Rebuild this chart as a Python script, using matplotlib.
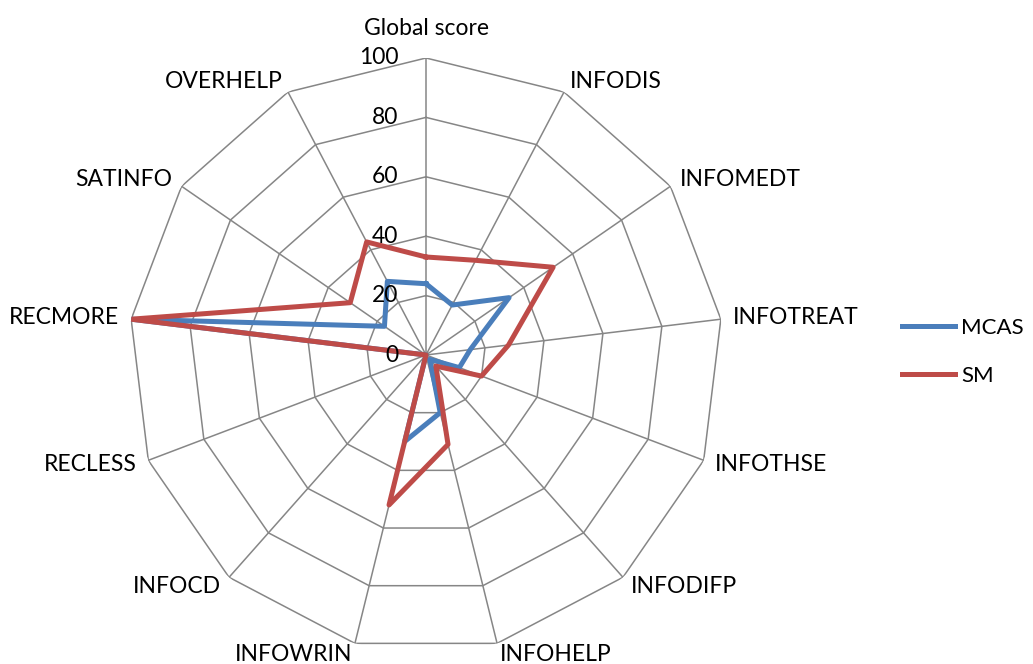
import numpy as np
from matplotlib import pyplot as plt

plt.rcParams['font.family'] = ['Lato', 'DejaVu Sans']

# categories clockwise from the top
categories = ['Global score', 'INFODIS', 'INFOMEDT', 'INFOTREAT', 'INFOTHSE',
              'INFODIFP', 'INFOHELP', 'INFOWRIN', 'INFOCD', 'RECLESS',
              'RECMORE', 'SATINFO', 'OVERHELP']
mcas = [24, 19, 34, 15, 12, 2, 20, 30, 0, 0, 100, 17, 28]
sm = [33, 36, 52, 28, 20, 5, 31, 52, 0, 0, 100, 31, 43]
r_ticks = [0, 20, 40, 60, 80, 100]

blue = '#4A7EBB'
red = '#BE4B48'
grid_col = '#868686'
fs = 16.5

n = len(categories)
angles = np.linspace(0, 2*np.pi, n, endpoint=False)
closed = np.append(angles, angles[0])

fig = plt.figure(figsize=(10.33, 6.64), dpi=100)
ax = fig.add_axes([129/1033, 12/664, 594/1033, 594/664], projection='polar')
ax.set_theta_zero_location('N')
ax.set_theta_direction(-1)
ax.set_ylim(0, 100)
ax.grid(False)
ax.spines['polar'].set_visible(False)
ax.set_xticks([])
ax.set_yticks([])

# polygon grid + spokes
for r in r_ticks[1:]:
    ax.plot(closed, [r]*(n+1), color=grid_col, lw=1.1, zorder=1)
for a in angles:
    ax.plot([a, a], [0, 100], color=grid_col, lw=1.1, zorder=1)

ax.plot(closed, np.append(mcas, mcas[0]), color=blue, lw=3.6, label='MCAS', zorder=3)
ax.plot(closed, np.append(sm, sm[0]), color=red, lw=3.6, label='SM', zorder=4)

# radial tick labels left of the top spoke
for r in r_ticks:
    ax.annotate(str(r), xy=(0, r), xytext=(-20, 0), textcoords='offset points',
                ha='right', va='center', fontsize=fs, zorder=5)

# category labels
for a, c in zip(angles, categories):
    s = np.sin(a)
    if abs(s) < 1e-6:
        ax.text(a, 110, c, ha='center', va='center', fontsize=fs)
    else:
        ax.text(a, 104, c, ha='left' if s > 0 else 'right', va='center', fontsize=fs)

fig.legend(loc='center left', bbox_to_anchor=(882/1033, 1 - 352/664), frameon=False,
           fontsize=16, handlelength=2.4, handletextpad=0.25, labelspacing=1.25,
           borderaxespad=0.5)

fig.savefig('out.png', dpi=100)
